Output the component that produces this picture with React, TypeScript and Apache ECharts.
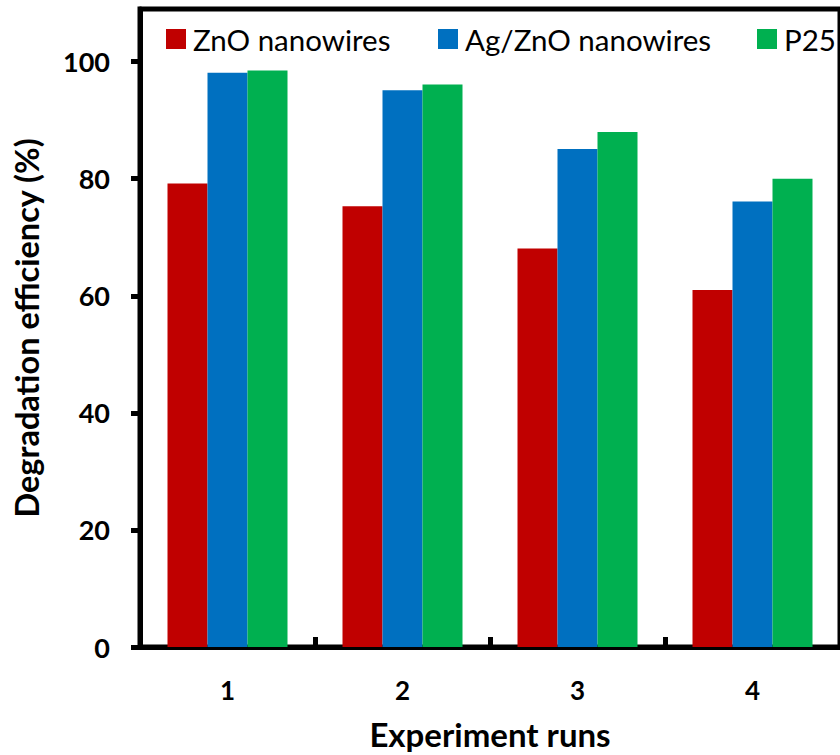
import React, { useEffect, useRef } from "react";
import * as echarts from "echarts";

const categories = ["1", "2", "3", "4"];
const seriesNames = ["ZnO nanowires", "Ag/ZnO nanowires", "P25"];
const znoValues = [79.2, 75.3, 68.1, 61.0];
const agZnoValues = [98.1, 95.1, 85.1, 76.1];
const p25Values = [98.5, 96.1, 88.0, 80.0];
const yTickValues = [0, 20, 40, 60, 80, 100];
const colors = ["#C00000", "#0070C0", "#00B050"];

const FONT = "Lato";

export default function App() {
  const ref = useRef<HTMLDivElement>(null);
  useEffect(() => {
    if (!ref.current) return;
    const chart = echarts.init(ref.current, null, { renderer: "svg" });
    const legendLefts = [166, 438, 757];
    const allValues = [znoValues, agZnoValues, p25Values];
    chart.setOption({
      animation: false,
      backgroundColor: "#ffffff",
      textStyle: { fontFamily: FONT },
      grid: {
        left: 140,
        top: 9,
        width: 706,
        height: 641,
        show: true,
        borderColor: "#000",
        borderWidth: 5,
        backgroundColor: "transparent",
      },
      legend: seriesNames.map((name, i) => ({
        data: [name],
        left: legendLefts[i],
        top: 24,
        padding: 0,
        itemWidth: 20,
        itemHeight: 20,
        icon: "rect",
        textStyle: { fontFamily: FONT, fontSize: 29.5, color: "#000", padding: [0, 0, 0, 2] },
      })),
      xAxis: {
        type: "category",
        data: categories,
        name: "Experiment runs",
        nameLocation: "middle",
        nameGap: 70,
        nameTextStyle: { fontFamily: FONT, fontSize: 33, fontWeight: "bold", color: "#000" },
        axisLine: { show: true, lineStyle: { color: "#000", width: 5 } },
        axisTick: {
          show: true,
          inside: true,
          interval: 0,
          length: 10,
          lineStyle: { color: "#000", width: 5 },
        },
        axisLabel: { margin: 30, fontFamily: FONT, fontSize: 26, fontWeight: "bold", color: "#000" },
        splitLine: { show: false },
      },
      yAxis: {
        type: "value",
        min: 0,
        max: 109,
        interval: 20,
        name: "Degradation efficiency (%)",
        nameLocation: "middle",
        nameGap: 97,
        nameTextStyle: { fontFamily: FONT, fontSize: 32.5, fontWeight: "bold", color: "#000" },
        axisLine: { show: true, lineStyle: { color: "#000", width: 5 } },
        axisTick: {
          show: true,
          inside: false,
          length: 9,
          customValues: yTickValues,
          lineStyle: { color: "#000", width: 5 },
        },
        axisLabel: {
          show: true,
          margin: 30,
          customValues: yTickValues,
          fontFamily: FONT,
          fontSize: 27,
          fontWeight: "bold",
          color: "#000",
        },
        splitLine: { show: false },
      },
      series: seriesNames.map((name, i) => ({
        name,
        type: "bar",
        data: allValues[i],
        barWidth: 40,
        barGap: "0%",
        itemStyle: { color: colors[i] },
      })),
    });
    return () => chart.dispose();
  }, []);
  return (
    <div
      ref={ref}
      style={{ position: "fixed", left: 0, top: 0, width: 840, height: 755 }}
    />
  );
}
